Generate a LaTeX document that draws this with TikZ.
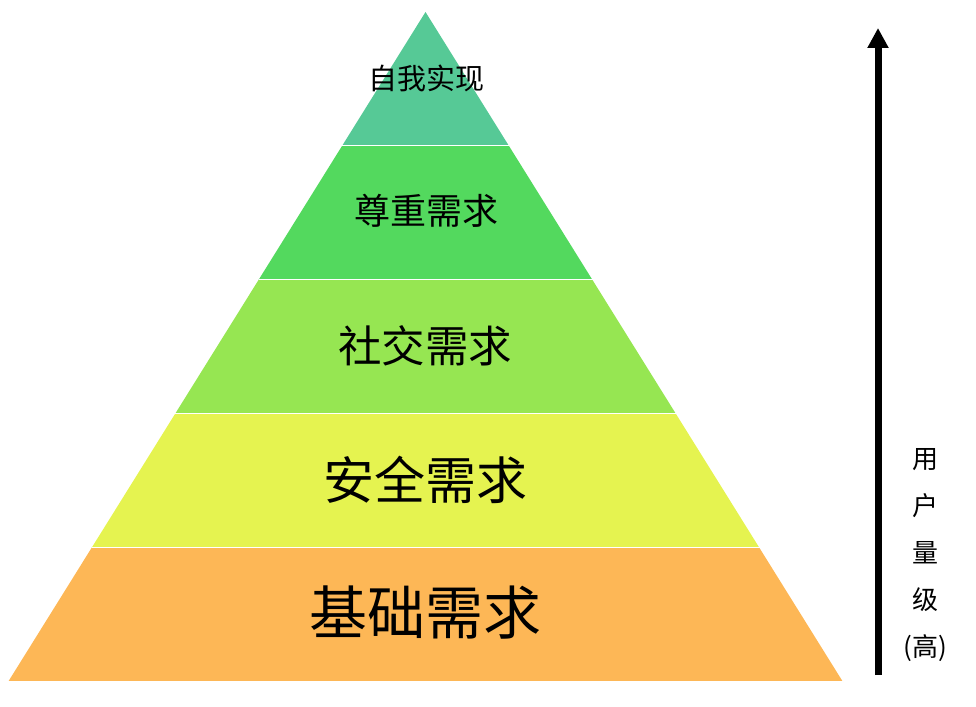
\documentclass[tikz,border=0pt]{standalone}
\usepackage{fontspec}
\newfontfamily\cjk{Noto Sans CJK SC}
\usepackage{xcolor}
\usetikzlibrary{arrows.meta,positioning,calc}

\definecolor{lvlA}{RGB}{86,201,150}
\definecolor{lvlB}{RGB}{83,217,94}
\definecolor{lvlC}{RGB}{150,230,82}
\definecolor{lvlD}{RGB}{229,243,80}
\definecolor{lvlE}{RGB}{253,183,86}

\begin{document}
\begin{tikzpicture}[
    x=1pt,y=-1pt,
    every node/.style={font=\cjk},
    layer/.style={draw=white,line width=1.5pt,line join=miter},
    label/.style={anchor=center,inner sep=0pt}
]
\useasboundingbox (0,0) rectangle (976,706);
\foreach \i/\c in {0/lvlA,1/lvlB,2/lvlC,3/lvlD,4/lvlE}{
  \pgfmathsetmacro{\yt}{12+134*\i}
  \pgfmathsetmacro{\yb}{12+134*(\i+1)}
  \pgfmathsetmacro{\wt}{83.5*\i}
  \pgfmathsetmacro{\wb}{83.5*(\i+1)}
  \fill[\c] (425.5-\wt,\yt) -- (425.5+\wt,\yt) -- (425.5+\wb,\yb) -- (425.5-\wb,\yb) -- cycle;
  \draw[white,line width=1.5pt] (425.5-\wb,\yb) -- (425.5+\wb,\yb);
}
\node[label,font=\cjk\fontsize{29}{29}\selectfont] (self) at (426,78) {自我实现};
\node[label,font=\cjk\fontsize{36}{36}\selectfont] (esteem) at (426,211) {尊重需求};
\node[label,font=\cjk\fontsize{43.5}{43.5}\selectfont] (social) at (425,346) {社交需求};
\node[label,font=\cjk\fontsize{51}{51}\selectfont] (safety) at (425,480) {安全需求};
\node[label,font=\cjk\fontsize{58}{58}\selectfont] (basic) at (425,613) {基础需求};
\coordinate (low) at (878,675);
\coordinate (high) at (878,28);
\draw[line width=7pt,-{Triangle[width=20pt,length=20pt]}] (low) -- (high);
\node[label,align=center,font=\cjk\fontsize{26}{47}\selectfont] (users) at (925,555)
  {用\\户\\量\\级\\(高)};
\end{tikzpicture}
\end{document}
